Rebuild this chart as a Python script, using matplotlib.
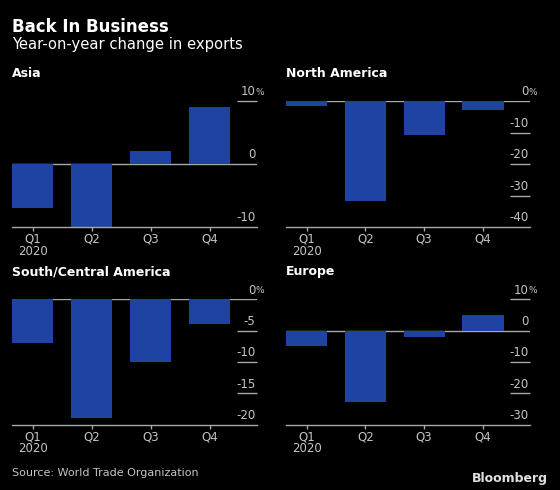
import matplotlib
matplotlib.use("Agg")
import matplotlib.pyplot as plt

plt.rcParams['font.family'] = ['DejaVu Sans']

quarters = ["Q1\n2020", "Q2", "Q3", "Q4"]

asia = [-7.0, -10.0, 2.1, 9.0]
north_america = [-1.7, -31.8, -10.8, -2.8]
south_central = [-7.0, -19.0, -10.0, -3.9]
europe = [-5.0, -22.7, -2.0, 5.1]

asia_ticks = [10, 0, -10]
na_ticks = [0, -10, -20, -30, -40]
sca_ticks = [0, -5, -10, -15, -20]
eu_ticks = [10, 0, -10, -20, -30]

panels = [
    ("Asia", asia, asia_ticks, (0.0214, 0.5367, 0.4375, 0.257)),
    ("North America", north_america, na_ticks, (0.5107, 0.5367, 0.4357, 0.257)),
    ("South/Central America", south_central, sca_ticks, (0.0214, 0.1333, 0.4375, 0.2555)),
    ("Europe", europe, eu_ticks, (0.5107, 0.1333, 0.4357, 0.2555)),
]

bg = "#000000"
bar_color = "#1e43a2"
grid_color = "#a8a8a8"
label_color = "#c4c4c4"

fig = plt.figure(figsize=(5.6, 4.9), dpi=100, facecolor=bg)

fig.text(12/560, 1 - 27/490, "Back In Business", color="white", fontsize=12,
         fontweight="bold", va="center", ha="left")
fig.text(12/560, 1 - 45/490, "Year-on-year change in exports", color="white",
         fontsize=10.6, va="center", ha="left")

for title, vals, ticks, rect in panels:
    ax = fig.add_axes(rect)
    ax.set_facecolor(bg)
    x = list(range(len(vals)))
    ymax, ymin = ticks[0], ticks[-1]
    ax.set_xlim(-0.35, 3.8)
    ax.set_ylim(ymin, ymax)

    # zero line across, short grid segments at right
    ax.axhline(0, color=grid_color, lw=1, zorder=1)
    for t in ticks:
        if t != 0 and t != ymin:
            ax.hlines(t, 3.46, 3.8, color=grid_color, lw=1, zorder=1, clip_on=False)
        ax.annotate(str(t), xy=(1.0, t), xycoords=("axes fraction", "data"),
                    xytext=(-1, 2), textcoords="offset points",
                    ha="right", va="bottom", color=label_color, fontsize=8.5,
                    annotation_clip=False)
        if t == ymax:
            ax.annotate("%", xy=(1.0, t), xycoords=("axes fraction", "data"),
                        xytext=(-1, 3), textcoords="offset points",
                        ha="left", va="bottom", color=label_color, fontsize=6.5,
                        annotation_clip=False)

    ax.bar(x, vals, width=0.7, color=bar_color, zorder=2)

    for s in ["top", "right", "left"]:
        ax.spines[s].set_visible(False)
    ax.spines["bottom"].set_color(grid_color)
    ax.spines["bottom"].set_linewidth(1)
    ax.set_yticks([])
    ax.set_xticks(x)
    ax.set_xticklabels(quarters, color=label_color, fontsize=8.5, linespacing=0.9)
    ax.tick_params(axis="x", colors=grid_color, length=3, width=1, pad=1,
                   labelcolor=label_color)

    ax.text(0, 1.0 + 21 / (rect[3] * 490), title, transform=ax.transAxes,
            color="white", fontsize=9, fontweight="bold", ha="left", va="bottom")

fig.text(12/560, 1 - 473/490, "Source: World Trade Organization", color=label_color,
         fontsize=8, va="center", ha="left")
fig.text(548/560, 1 - 478/490, "Bloomberg", color="#e0e0e0", fontsize=9,
         fontweight="bold", va="center", ha="right")

fig.savefig("out.png", dpi=100, facecolor=bg)
